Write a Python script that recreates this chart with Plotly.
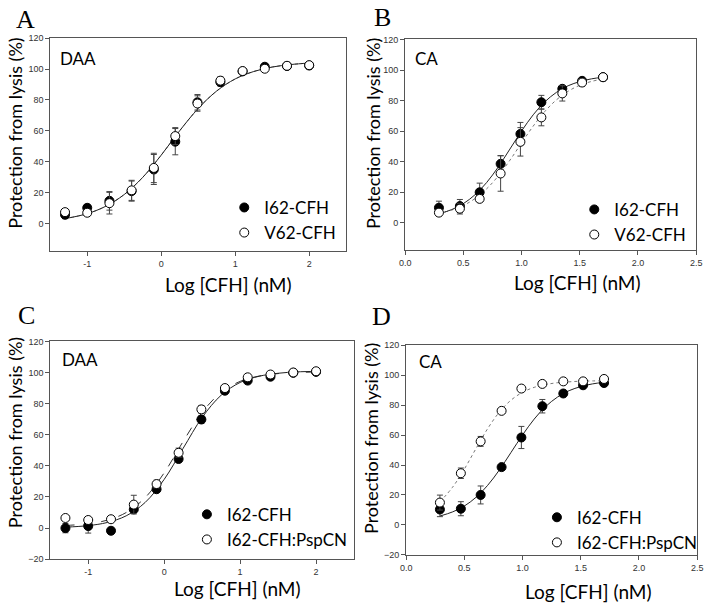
import plotly.graph_objects as go

W, H = 713, 608

# ---------------- data ----------------
x_daa = [-1.3, -1.0, -0.7, -0.4, -0.1, 0.19, 0.49, 0.8, 1.1, 1.4, 1.7, 2.0]
x_ca = [0.29, 0.47, 0.64, 0.82, 0.99, 1.17, 1.35, 1.52, 1.70]

# Panel A (DAA)
a_i62 = [5.7, 10.2, 14.7, 21.0, 35.0, 53.0, 78.5, 91.5, 98.5, 101.5, 102.0, 102.3]
a_i62_err = [2.5, 2.0, 6.0, 6.5, 9.7, 8.5, 5.0, 2.5, 1.0, 1.0, 0.5, 0.5]
a_v62 = [7.4, 7.0, 13.2, 21.5, 36.0, 56.6, 77.7, 92.5, 98.7, 100.2, 102.1, 102.5]
a_v62_err = [2.0, 1.5, 7.0, 6.5, 9.5, 5.5, 5.0, 2.5, 1.0, 1.0, 0.5, 0.5]

# Panel B (CA)
b_i62 = [9.9, 11.0, 20.0, 38.6, 58.2, 78.9, 87.7, 92.9, 95.3]
b_i62_err = [4.3, 4.3, 6.0, 5.4, 7.5, 4.5, 1.7, 1.0, 0.5]
b_v62 = [6.7, 9.3, 15.7, 32.3, 53.0, 69.0, 84.7, 91.8, 95.3]
b_v62_err = [2.0, 3.5, 2.0, 11.6, 9.3, 5.5, 5.0, 2.4, 0.5]

# Panel C (DAA)
c_i62 = [0.0, 1.3, -1.7, 12.0, 25.0, 44.4, 69.8, 88.3, 94.8, 97.3, 99.8, 100.4]
c_i62_err = [3.0, 4.5, 0.8, 2.0, 1.5, 1.5, 2.5, 1.0, 1.0, 1.5, 0.5, 0.5]
c_psp = [6.5, 5.2, 5.7, 15.1, 28.3, 48.4, 76.3, 90.0, 96.9, 98.7, 100.0, 100.8]
c_psp_err = [1.5, 1.5, 2.0, 6.0, 2.5, 3.0, 2.5, 1.0, 0.5, 0.5, 0.5, 0.5]

# Panel D (CA)
d_i62 = [10.3, 10.8, 20.0, 38.6, 58.4, 79.3, 87.8, 93.3, 94.8]
d_i62_err = [4.8, 4.7, 6.0, 1.5, 7.4, 4.5, 2.0, 1.0, 0.5]
d_psp = [14.9, 34.5, 55.8, 76.2, 91.1, 94.2, 95.9, 95.9, 97.5]
d_psp_err = [5.0, 3.5, 3.3, 1.5, 1.0, 0.8, 0.8, 0.8, 0.5]

# fitted curves
fit_x_daa = [-1.3, -1.0, -0.75, -0.5, -0.25, 0.0, 0.25, 0.5, 0.75, 1.0, 1.25, 1.5, 1.75, 2.0]
fit_a = [3.2, 6.4, 11.2, 18.8, 29.9, 44.3, 60.1, 74.5, 85.8, 93.6, 98.4, 101.3, 102.9, 103.9]
fit_c_i62 = [0.6, 1.6, 3.6, 7.9, 16.5, 31.3, 51.3, 71.1, 85.4, 93.6, 97.6, 99.5, 100.4, 100.7]
fit_c_psp = [1.7, 2.8, 5.1, 10.0, 19.6, 35.5, 55.7, 74.4, 87.2, 94.3, 97.7, 99.3, 100.0, 100.3]

fit_x_ca = [0.29, 0.4, 0.5, 0.6, 0.7, 0.8, 0.9, 1.0, 1.1, 1.2, 1.3, 1.4, 1.5, 1.6, 1.7]
fit_ca_i62 = [5.9, 8.7, 12.6, 18.4, 26.4, 36.6, 48.3, 60.1, 70.7, 79.2, 85.4, 89.7, 92.4, 94.2, 95.3]
fit_b_v62 = [6.2, 8.4, 11.4, 15.9, 22.3, 30.7, 41.0, 52.3, 63.3, 72.9, 80.5, 86.1, 90.0, 92.5, 94.2]
fit_d_psp = [15.3, 25.3, 37.3, 51.0, 64.3, 75.3, 83.3, 88.6, 91.9, 93.8, 95.0, 95.6, 96.0, 96.2, 96.3]

daa_ticks = [-1, 0, 1, 2]
ca_ticks = [0.0, 0.5, 1.0, 1.5, 2.0, 2.5]
y_ticks_ab = [0, 20, 40, 60, 80, 100, 120]
y_ticks_cd = [-20, 0, 20, 40, 60, 80, 100, 120]

FONT = "Lato"

# ---------------- layout geometry (pixels) ----------------
def px_x(p):
    return p / W

def px_y(p):
    return 1 - p / H

panels = {
    1: dict(x=(45, 346), y=(33.7, 250.5)),
    2: dict(x=(406, 702), y=(35, 249.5)),
    3: dict(x=(45, 354), y=(342, 563.5)),
    4: dict(x=(407, 703), y=(346, 559)),
}

fig = go.Figure()

def add_curve(n, xs, ys, dash, color):
    fig.add_trace(go.Scatter(x=xs, y=ys, mode="lines", line=dict(color=color, width=1, dash=dash, shape="spline"),
                             xaxis=f"x{n}", yaxis=f"y{n}", showlegend=False, hoverinfo="skip"))

def add_points(n, xs, ys, err, name, filled, legend):
    fig.add_trace(go.Scatter(
        x=xs, y=ys, mode="markers", name=name,
        marker=dict(symbol="circle", size=9, color="black" if filled else "white",
                    line=dict(color="black", width=1)),
        error_y=dict(type="data", array=err, visible=True, color="#444", thickness=1, width=3),
        xaxis=f"x{n}", yaxis=f"y{n}", legend=legend))

# Panel A
add_curve(1, fit_x_daa, fit_a, "dot", "#777")
add_curve(1, fit_x_daa, fit_a, "solid", "#222")
add_points(1, x_daa, a_i62, a_i62_err, "I62-CFH", True, "legend")
add_points(1, x_daa, a_v62, a_v62_err, "V62-CFH", False, "legend")
# Panel B
add_curve(2, fit_x_ca, fit_b_v62, "dot", "#777")
add_curve(2, fit_x_ca, fit_ca_i62, "solid", "#222")
add_points(2, x_ca, b_i62, b_i62_err, "I62-CFH", True, "legend2")
add_points(2, x_ca, b_v62, b_v62_err, "V62-CFH", False, "legend2")
# Panel C
add_curve(3, fit_x_daa, fit_c_psp, "dash", "#333")
add_curve(3, fit_x_daa, fit_c_i62, "solid", "#222")
add_points(3, x_daa, c_i62, c_i62_err, "I62-CFH", True, "legend3")
add_points(3, x_daa, c_psp, c_psp_err, "I62-CFH:PspCN", False, "legend3")
# Panel D
add_curve(4, fit_x_ca, fit_d_psp, "dot", "#777")
add_curve(4, fit_x_ca, fit_ca_i62, "solid", "#222")
add_points(4, x_ca, d_i62, d_i62_err, "I62-CFH", True, "legend4")
add_points(4, x_ca, d_psp, d_psp_err, "I62-CFH:PspCN", False, "legend4")

axis_common = dict(showgrid=False, zeroline=False, showline=True, linecolor="#555", linewidth=1,
                   mirror=True, ticks="outside", ticklen=4, tickcolor="#555", tickwidth=1,
                   tickfont=dict(family="Liberation Sans", size=9, color="#333"))

layout = dict(width=W, height=H, margin=dict(l=0, r=0, t=0, b=0),
              paper_bgcolor="white", plot_bgcolor="white", showlegend=True)

for n, g in panels.items():
    xa = dict(axis_common, domain=[px_x(g["x"][0]), px_x(g["x"][1])], anchor=f"y{n}")
    ya = dict(axis_common, domain=[px_y(g["y"][1]), px_y(g["y"][0])], anchor=f"x{n}")
    if n in (1, 3):
        xa.update(range=[-1.5, 2.5], tickvals=daa_ticks, ticktext=[str(t) for t in daa_ticks])
    else:
        xa.update(range=[0, 2.5], tickvals=ca_ticks, ticktext=[f"{t:.1f}" for t in ca_ticks])
    if n in (1, 2):
        ya.update(range=[-18, 120], tickvals=y_ticks_ab)
    else:
        ya.update(range=[-20, 120], tickvals=y_ticks_cd)
    sfx = "" if n == 1 else str(n)
    layout["xaxis" + sfx] = xa
    layout["yaxis" + sfx] = ya

legend_pos = {"legend": (222, 188), "legend2": (578, 190), "legend3": (184, 500), "legend4": (540, 503)}
for k, (lx, ly) in legend_pos.items():
    layout[k] = dict(x=px_x(lx), y=px_y(ly), xanchor="left", yanchor="top", bgcolor="rgba(0,0,0,0)",
                     font=dict(family=FONT, size=17, color="black"), tracegroupgap=0, itemclick=False)

fig.update_layout(**layout)

def ann(text, x, y, size, family=FONT, angle=0, xanchor="center"):
    fig.add_annotation(text=text, x=px_x(x), y=px_y(y), xref="paper", yref="paper", showarrow=False,
                       font=dict(family=family, size=size, color="black"), textangle=angle,
                       xanchor=xanchor, yanchor="middle")

# panel letters
for t, (x, y) in {"A": (20, 15), "B": (383, 13), "C": (21, 316), "D": (382, 317)}.items():
    ann(t, x, y, 26, family="Liberation Serif")
# inner labels
ann("DAA", 53, 54, 17, xanchor="left")
ann("CA", 414, 54, 17, xanchor="left")
ann("DAA", 55, 360, 17, xanchor="left")
ann("CA", 418, 362, 17, xanchor="left")
# axis titles
for (x, y) in [(9, 130), (373.5, 131), (9.5, 435), (370.5, 441)]:
    ann("Protection from lysis (%)", x, y, 18, angle=-90)
for (x, y) in [(226, 284), (581, 282), (235, 593), (592, 596)]:
    ann("Log [CFH] (nM)", x, y, 19)

fig.write_html("out.html", config={"displayModeBar": False},
               post_script="document.body.style.margin='0px';")
